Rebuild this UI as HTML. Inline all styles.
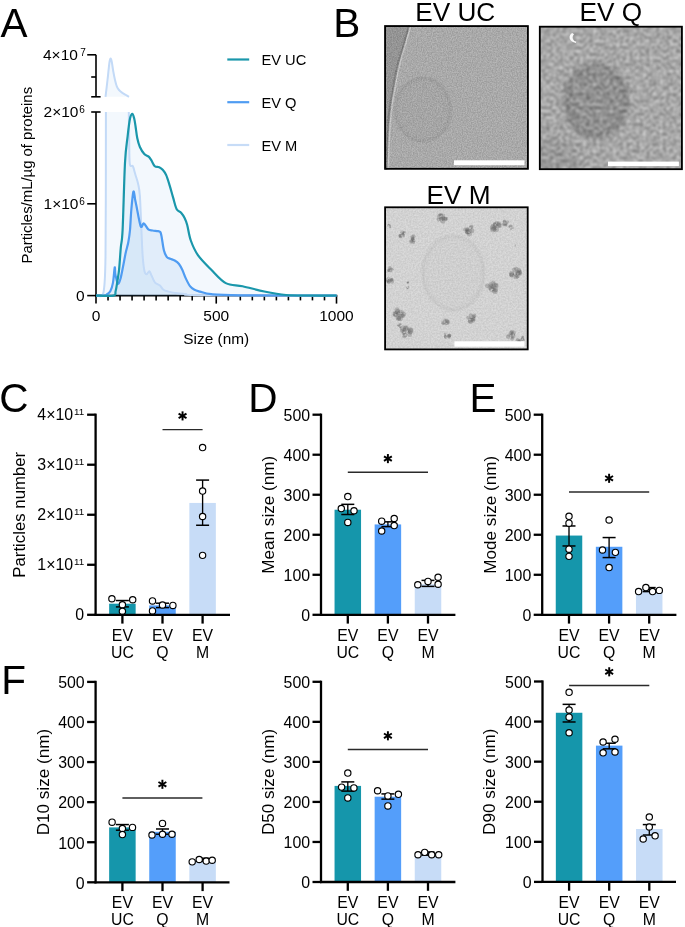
<!DOCTYPE html>
<html><head><meta charset="utf-8"><style>
html,body{margin:0;padding:0;background:#fff;}
svg{display:block;will-change:transform;}
text{font-family:"Liberation Sans",sans-serif;fill:#000;}
</style></head><body>
<svg width="685" height="927" viewBox="0 0 685 927" font-family="Liberation Sans, sans-serif">
<defs>
<filter id="gUC" x="0" y="0" width="1" height="1" color-interpolation-filters="sRGB">
 <feTurbulence type="fractalNoise" baseFrequency="0.8" numOctaves="2" seed="3"/>
 <feColorMatrix type="matrix" values="2 0 0 0 -0.5  2 0 0 0 -0.5  2 0 0 0 -0.5  0 0 0 0 0.11"/>
 <feGaussianBlur stdDeviation="0.4"/>
</filter>
<filter id="gQ" x="0" y="0" width="1" height="1" color-interpolation-filters="sRGB">
 <feTurbulence type="fractalNoise" baseFrequency="0.3" numOctaves="3" seed="11"/>
 <feColorMatrix type="matrix" values="1.6 0 0 0 -0.3  1.6 0 0 0 -0.3  1.6 0 0 0 -0.3  0 0 0 0 0.36"/>
 <feGaussianBlur stdDeviation="0.8"/>
</filter>
<filter id="gM" x="0" y="0" width="1" height="1" color-interpolation-filters="sRGB">
 <feTurbulence type="fractalNoise" baseFrequency="0.6" numOctaves="2" seed="5"/>
 <feColorMatrix type="matrix" values="2 0 0 0 -0.5  2 0 0 0 -0.5  2 0 0 0 -0.5  0 0 0 0 0.07"/>
 <feGaussianBlur stdDeviation="0.45"/>
</filter>
<filter id="bl05" color-interpolation-filters="sRGB"><feGaussianBlur stdDeviation="0.6"/></filter>
<filter id="blur1" color-interpolation-filters="sRGB"><feGaussianBlur stdDeviation="1.0"/></filter>
<filter id="blur2" x="-50%" y="-50%" width="200%" height="200%" color-interpolation-filters="sRGB"><feGaussianBlur stdDeviation="2.5"/></filter>
<filter id="blur4" x="-50%" y="-50%" width="200%" height="200%" color-interpolation-filters="sRGB"><feGaussianBlur stdDeviation="6"/></filter>
<clipPath id="c1"><rect x="384.3" y="25.3" width="144.4" height="144.3"/></clipPath>
<clipPath id="c2"><rect x="539" y="25.9" width="143.7" height="144.1"/></clipPath>
<clipPath id="c3"><rect x="384.3" y="206.5" width="144.2" height="143.7"/></clipPath>
</defs>
<text x="0.44" y="36.80" font-size="40.5" text-anchor="start" >A</text>
<text x="333.35" y="36.70" font-size="40.5" text-anchor="start" >B</text>
<text x="-0.84" y="412.30" font-size="40.5" text-anchor="start" >C</text>
<text x="248.34" y="411.90" font-size="40.5" text-anchor="start" >D</text>
<text x="469.50" y="412.30" font-size="40.5" text-anchor="start" >E</text>
<text x="1.23" y="693.70" font-size="40.5" text-anchor="start" >F</text>
<rect x="109.15" y="603.69" width="26.5" height="11.11" fill="#1596ab"/>
<rect x="149.25" y="605.40" width="26.5" height="9.40" fill="#549efa"/>
<rect x="189.35" y="502.94" width="26.5" height="111.86" fill="#c7dcf7"/>
<line x1="122.40" y1="606.90" x2="122.40" y2="600.54" stroke="#000" stroke-width="1.35"/>
<line x1="115.90" y1="606.90" x2="128.90" y2="606.90" stroke="#000" stroke-width="1.5"/>
<line x1="115.90" y1="600.54" x2="128.90" y2="600.54" stroke="#000" stroke-width="1.5"/>
<line x1="162.50" y1="607.60" x2="162.50" y2="603.19" stroke="#000" stroke-width="1.35"/>
<line x1="156.00" y1="607.60" x2="169.00" y2="607.60" stroke="#000" stroke-width="1.5"/>
<line x1="156.00" y1="603.19" x2="169.00" y2="603.19" stroke="#000" stroke-width="1.5"/>
<line x1="202.60" y1="525.26" x2="202.60" y2="480.08" stroke="#000" stroke-width="1.35"/>
<line x1="196.10" y1="525.26" x2="209.10" y2="525.26" stroke="#000" stroke-width="1.5"/>
<line x1="196.10" y1="480.08" x2="209.10" y2="480.08" stroke="#000" stroke-width="1.5"/>
<circle cx="111.90" cy="598.79" r="3.15" fill="#fff" stroke="#000" stroke-width="1.15"/>
<circle cx="132.70" cy="599.79" r="3.15" fill="#fff" stroke="#000" stroke-width="1.15"/>
<circle cx="122.40" cy="604.79" r="3.15" fill="#fff" stroke="#000" stroke-width="1.15"/>
<circle cx="122.40" cy="611.30" r="3.15" fill="#fff" stroke="#000" stroke-width="1.15"/>
<circle cx="152.50" cy="600.94" r="3.15" fill="#fff" stroke="#000" stroke-width="1.15"/>
<circle cx="162.50" cy="605.00" r="3.15" fill="#fff" stroke="#000" stroke-width="1.15"/>
<circle cx="172.90" cy="605.40" r="3.15" fill="#fff" stroke="#000" stroke-width="1.15"/>
<circle cx="152.50" cy="610.90" r="3.15" fill="#fff" stroke="#000" stroke-width="1.15"/>
<circle cx="202.60" cy="447.57" r="3.15" fill="#fff" stroke="#000" stroke-width="1.15"/>
<circle cx="202.60" cy="491.09" r="3.15" fill="#fff" stroke="#000" stroke-width="1.15"/>
<circle cx="202.60" cy="516.55" r="3.15" fill="#fff" stroke="#000" stroke-width="1.15"/>
<circle cx="202.60" cy="555.37" r="3.15" fill="#fff" stroke="#000" stroke-width="1.15"/>
<line x1="95.60" y1="413.60" x2="95.60" y2="615.90" stroke="#000" stroke-width="2.3"/>
<line x1="94.50" y1="614.80" x2="230.00" y2="614.80" stroke="#000" stroke-width="2.3"/>
<line x1="87.10" y1="614.80" x2="95.60" y2="614.80" stroke="#000" stroke-width="2.3"/>
<line x1="87.10" y1="564.77" x2="95.60" y2="564.77" stroke="#000" stroke-width="2.3"/>
<line x1="87.10" y1="514.75" x2="95.60" y2="514.75" stroke="#000" stroke-width="2.3"/>
<line x1="87.10" y1="464.72" x2="95.60" y2="464.72" stroke="#000" stroke-width="2.3"/>
<line x1="87.10" y1="414.70" x2="95.60" y2="414.70" stroke="#000" stroke-width="2.3"/>
<line x1="122.40" y1="614.80" x2="122.40" y2="623.60" stroke="#000" stroke-width="2.3"/>
<line x1="162.50" y1="614.80" x2="162.50" y2="623.60" stroke="#000" stroke-width="2.3"/>
<line x1="202.60" y1="614.80" x2="202.60" y2="623.60" stroke="#000" stroke-width="2.3"/>
<text x="84.00" y="620.20" font-size="15.9" text-anchor="end">0</text>
<text x="73.10" y="569.67" font-size="15.9" text-anchor="end">1×10</text><text x="74.00" y="565.07" font-size="9.8">11</text>
<text x="73.10" y="519.65" font-size="15.9" text-anchor="end">2×10</text><text x="74.00" y="515.05" font-size="9.8">11</text>
<text x="73.10" y="469.62" font-size="15.9" text-anchor="end">3×10</text><text x="74.00" y="465.02" font-size="9.8">11</text>
<text x="73.10" y="419.60" font-size="15.9" text-anchor="end">4×10</text><text x="74.00" y="415.00" font-size="9.8">11</text>
<text x="122.40" y="640.60" font-size="15.8" text-anchor="middle" >EV</text>
<text x="122.40" y="657.80" font-size="15.8" text-anchor="middle" >UC</text>
<text x="162.50" y="640.60" font-size="15.8" text-anchor="middle" >EV</text>
<text x="162.50" y="657.80" font-size="15.8" text-anchor="middle" >Q</text>
<text x="202.60" y="640.60" font-size="15.8" text-anchor="middle" >EV</text>
<text x="202.60" y="657.80" font-size="15.8" text-anchor="middle" >M</text>
<line x1="162.50" y1="429.60" x2="202.60" y2="429.60" stroke="#2a2a2a" stroke-width="1.4"/>
<line x1="182.55" y1="411.35" x2="182.55" y2="420.45" stroke="#000" stroke-width="1.95"/>
<line x1="178.61" y1="413.63" x2="186.49" y2="418.18" stroke="#000" stroke-width="1.95"/>
<line x1="186.49" y1="413.63" x2="178.61" y2="418.18" stroke="#000" stroke-width="1.95"/>
<text transform="translate(24.60,514.75) rotate(-90)" font-size="16.8" text-anchor="middle" dy="0">Particles number</text>
<rect x="334.55" y="509.71" width="26.5" height="105.09" fill="#1596ab"/>
<rect x="374.65" y="524.43" width="26.5" height="90.37" fill="#549efa"/>
<rect x="414.75" y="584.22" width="26.5" height="30.58" fill="#c7dcf7"/>
<line x1="347.80" y1="514.51" x2="347.80" y2="504.34" stroke="#000" stroke-width="1.35"/>
<line x1="341.30" y1="514.51" x2="354.30" y2="514.51" stroke="#000" stroke-width="1.5"/>
<line x1="341.30" y1="504.34" x2="354.30" y2="504.34" stroke="#000" stroke-width="1.5"/>
<line x1="387.90" y1="526.64" x2="387.90" y2="521.83" stroke="#000" stroke-width="1.35"/>
<line x1="381.40" y1="526.64" x2="394.40" y2="526.64" stroke="#000" stroke-width="1.5"/>
<line x1="381.40" y1="521.83" x2="394.40" y2="521.83" stroke="#000" stroke-width="1.5"/>
<line x1="428.00" y1="586.39" x2="428.00" y2="580.38" stroke="#000" stroke-width="1.35"/>
<line x1="421.50" y1="586.39" x2="434.50" y2="586.39" stroke="#000" stroke-width="1.5"/>
<line x1="421.50" y1="580.38" x2="434.50" y2="580.38" stroke="#000" stroke-width="1.5"/>
<circle cx="347.80" cy="496.58" r="3.15" fill="#fff" stroke="#000" stroke-width="1.15"/>
<circle cx="341.30" cy="508.59" r="3.15" fill="#fff" stroke="#000" stroke-width="1.15"/>
<circle cx="354.00" cy="510.79" r="3.15" fill="#fff" stroke="#000" stroke-width="1.15"/>
<circle cx="347.80" cy="522.43" r="3.15" fill="#fff" stroke="#000" stroke-width="1.15"/>
<circle cx="381.70" cy="521.15" r="3.15" fill="#fff" stroke="#000" stroke-width="1.15"/>
<circle cx="394.20" cy="518.51" r="3.15" fill="#fff" stroke="#000" stroke-width="1.15"/>
<circle cx="394.20" cy="525.56" r="3.15" fill="#fff" stroke="#000" stroke-width="1.15"/>
<circle cx="381.70" cy="531.04" r="3.15" fill="#fff" stroke="#000" stroke-width="1.15"/>
<circle cx="417.80" cy="584.74" r="3.15" fill="#fff" stroke="#000" stroke-width="1.15"/>
<circle cx="428.00" cy="581.42" r="3.15" fill="#fff" stroke="#000" stroke-width="1.15"/>
<circle cx="438.10" cy="577.22" r="3.15" fill="#fff" stroke="#000" stroke-width="1.15"/>
<circle cx="438.10" cy="584.22" r="3.15" fill="#fff" stroke="#000" stroke-width="1.15"/>
<line x1="321.00" y1="413.60" x2="321.00" y2="615.90" stroke="#000" stroke-width="2.3"/>
<line x1="319.90" y1="614.80" x2="455.40" y2="614.80" stroke="#000" stroke-width="2.3"/>
<line x1="312.50" y1="614.80" x2="321.00" y2="614.80" stroke="#000" stroke-width="2.3"/>
<line x1="312.50" y1="574.78" x2="321.00" y2="574.78" stroke="#000" stroke-width="2.3"/>
<line x1="312.50" y1="534.76" x2="321.00" y2="534.76" stroke="#000" stroke-width="2.3"/>
<line x1="312.50" y1="494.74" x2="321.00" y2="494.74" stroke="#000" stroke-width="2.3"/>
<line x1="312.50" y1="454.72" x2="321.00" y2="454.72" stroke="#000" stroke-width="2.3"/>
<line x1="312.50" y1="414.70" x2="321.00" y2="414.70" stroke="#000" stroke-width="2.3"/>
<line x1="347.80" y1="614.80" x2="347.80" y2="623.60" stroke="#000" stroke-width="2.3"/>
<line x1="387.90" y1="614.80" x2="387.90" y2="623.60" stroke="#000" stroke-width="2.3"/>
<line x1="428.00" y1="614.80" x2="428.00" y2="623.60" stroke="#000" stroke-width="2.3"/>
<text x="310.10" y="621.10" font-size="15.9" text-anchor="end">0</text>
<text x="310.10" y="581.08" font-size="15.9" text-anchor="end">100</text>
<text x="310.10" y="541.06" font-size="15.9" text-anchor="end">200</text>
<text x="310.10" y="501.04" font-size="15.9" text-anchor="end">300</text>
<text x="310.10" y="461.02" font-size="15.9" text-anchor="end">400</text>
<text x="310.10" y="421.00" font-size="15.9" text-anchor="end">500</text>
<text x="347.80" y="640.60" font-size="15.8" text-anchor="middle" >EV</text>
<text x="347.80" y="657.80" font-size="15.8" text-anchor="middle" >UC</text>
<text x="387.90" y="640.60" font-size="15.8" text-anchor="middle" >EV</text>
<text x="387.90" y="657.80" font-size="15.8" text-anchor="middle" >Q</text>
<text x="428.00" y="640.60" font-size="15.8" text-anchor="middle" >EV</text>
<text x="428.00" y="657.80" font-size="15.8" text-anchor="middle" >M</text>
<line x1="347.80" y1="472.30" x2="428.00" y2="472.30" stroke="#2a2a2a" stroke-width="1.4"/>
<line x1="387.90" y1="454.05" x2="387.90" y2="463.15" stroke="#000" stroke-width="1.95"/>
<line x1="383.96" y1="456.33" x2="391.84" y2="460.88" stroke="#000" stroke-width="1.95"/>
<line x1="391.84" y1="456.33" x2="383.96" y2="460.88" stroke="#000" stroke-width="1.95"/>
<text transform="translate(274.30,514.75) rotate(-90)" font-size="17.1" text-anchor="middle" dy="0">Mean size (nm)</text>
<rect x="555.75" y="535.56" width="26.5" height="79.24" fill="#1596ab"/>
<rect x="595.85" y="546.77" width="26.5" height="68.03" fill="#549efa"/>
<rect x="635.95" y="589.59" width="26.5" height="25.21" fill="#c7dcf7"/>
<line x1="569.00" y1="545.97" x2="569.00" y2="525.96" stroke="#000" stroke-width="1.35"/>
<line x1="562.50" y1="545.97" x2="575.50" y2="545.97" stroke="#000" stroke-width="1.5"/>
<line x1="562.50" y1="525.96" x2="575.50" y2="525.96" stroke="#000" stroke-width="1.5"/>
<line x1="609.10" y1="557.57" x2="609.10" y2="537.56" stroke="#000" stroke-width="1.35"/>
<line x1="602.60" y1="557.57" x2="615.60" y2="557.57" stroke="#000" stroke-width="1.5"/>
<line x1="602.60" y1="537.56" x2="615.60" y2="537.56" stroke="#000" stroke-width="1.5"/>
<line x1="649.20" y1="591.59" x2="649.20" y2="587.59" stroke="#000" stroke-width="1.35"/>
<line x1="642.70" y1="591.59" x2="655.70" y2="591.59" stroke="#000" stroke-width="1.5"/>
<line x1="642.70" y1="587.59" x2="655.70" y2="587.59" stroke="#000" stroke-width="1.5"/>
<circle cx="569.00" cy="516.35" r="3.15" fill="#fff" stroke="#000" stroke-width="1.15"/>
<circle cx="569.00" cy="523.15" r="3.15" fill="#fff" stroke="#000" stroke-width="1.15"/>
<circle cx="569.00" cy="549.17" r="3.15" fill="#fff" stroke="#000" stroke-width="1.15"/>
<circle cx="569.00" cy="556.37" r="3.15" fill="#fff" stroke="#000" stroke-width="1.15"/>
<circle cx="609.10" cy="519.95" r="3.15" fill="#fff" stroke="#000" stroke-width="1.15"/>
<circle cx="602.50" cy="549.97" r="3.15" fill="#fff" stroke="#000" stroke-width="1.15"/>
<circle cx="615.40" cy="552.37" r="3.15" fill="#fff" stroke="#000" stroke-width="1.15"/>
<circle cx="609.10" cy="567.58" r="3.15" fill="#fff" stroke="#000" stroke-width="1.15"/>
<circle cx="638.60" cy="591.59" r="3.15" fill="#fff" stroke="#000" stroke-width="1.15"/>
<circle cx="645.90" cy="587.59" r="3.15" fill="#fff" stroke="#000" stroke-width="1.15"/>
<circle cx="652.60" cy="591.59" r="3.15" fill="#fff" stroke="#000" stroke-width="1.15"/>
<circle cx="659.30" cy="590.39" r="3.15" fill="#fff" stroke="#000" stroke-width="1.15"/>
<line x1="542.20" y1="413.60" x2="542.20" y2="615.90" stroke="#000" stroke-width="2.3"/>
<line x1="541.10" y1="614.80" x2="676.40" y2="614.80" stroke="#000" stroke-width="2.3"/>
<line x1="533.70" y1="614.80" x2="542.20" y2="614.80" stroke="#000" stroke-width="2.3"/>
<line x1="533.70" y1="574.78" x2="542.20" y2="574.78" stroke="#000" stroke-width="2.3"/>
<line x1="533.70" y1="534.76" x2="542.20" y2="534.76" stroke="#000" stroke-width="2.3"/>
<line x1="533.70" y1="494.74" x2="542.20" y2="494.74" stroke="#000" stroke-width="2.3"/>
<line x1="533.70" y1="454.72" x2="542.20" y2="454.72" stroke="#000" stroke-width="2.3"/>
<line x1="533.70" y1="414.70" x2="542.20" y2="414.70" stroke="#000" stroke-width="2.3"/>
<line x1="569.00" y1="614.80" x2="569.00" y2="623.60" stroke="#000" stroke-width="2.3"/>
<line x1="609.10" y1="614.80" x2="609.10" y2="623.60" stroke="#000" stroke-width="2.3"/>
<line x1="649.20" y1="614.80" x2="649.20" y2="623.60" stroke="#000" stroke-width="2.3"/>
<text x="531.30" y="621.10" font-size="15.9" text-anchor="end">0</text>
<text x="531.30" y="581.08" font-size="15.9" text-anchor="end">100</text>
<text x="531.30" y="541.06" font-size="15.9" text-anchor="end">200</text>
<text x="531.30" y="501.04" font-size="15.9" text-anchor="end">300</text>
<text x="531.30" y="461.02" font-size="15.9" text-anchor="end">400</text>
<text x="531.30" y="421.00" font-size="15.9" text-anchor="end">500</text>
<text x="569.00" y="640.60" font-size="15.8" text-anchor="middle" >EV</text>
<text x="569.00" y="657.80" font-size="15.8" text-anchor="middle" >UC</text>
<text x="609.10" y="640.60" font-size="15.8" text-anchor="middle" >EV</text>
<text x="609.10" y="657.80" font-size="15.8" text-anchor="middle" >Q</text>
<text x="649.20" y="640.60" font-size="15.8" text-anchor="middle" >EV</text>
<text x="649.20" y="657.80" font-size="15.8" text-anchor="middle" >M</text>
<line x1="569.00" y1="492.00" x2="649.20" y2="492.00" stroke="#2a2a2a" stroke-width="1.4"/>
<line x1="609.10" y1="473.75" x2="609.10" y2="482.85" stroke="#000" stroke-width="1.95"/>
<line x1="605.16" y1="476.03" x2="613.04" y2="480.57" stroke="#000" stroke-width="1.95"/>
<line x1="613.04" y1="476.03" x2="605.16" y2="480.57" stroke="#000" stroke-width="1.95"/>
<text transform="translate(495.60,514.75) rotate(-90)" font-size="17.1" text-anchor="middle" dy="0">Mode size (nm)</text>
<rect x="109.15" y="827.39" width="26.5" height="54.91" fill="#1596ab"/>
<rect x="149.25" y="831.80" width="26.5" height="50.50" fill="#549efa"/>
<rect x="189.35" y="859.86" width="26.5" height="22.44" fill="#c7dcf7"/>
<line x1="122.40" y1="830.20" x2="122.40" y2="824.58" stroke="#000" stroke-width="1.35"/>
<line x1="115.90" y1="830.20" x2="128.90" y2="830.20" stroke="#000" stroke-width="1.5"/>
<line x1="115.90" y1="824.58" x2="128.90" y2="824.58" stroke="#000" stroke-width="1.5"/>
<line x1="162.50" y1="834.20" x2="162.50" y2="828.99" stroke="#000" stroke-width="1.35"/>
<line x1="156.00" y1="834.20" x2="169.00" y2="834.20" stroke="#000" stroke-width="1.5"/>
<line x1="156.00" y1="828.99" x2="169.00" y2="828.99" stroke="#000" stroke-width="1.5"/>
<line x1="202.60" y1="861.06" x2="202.60" y2="858.25" stroke="#000" stroke-width="1.35"/>
<line x1="196.10" y1="861.06" x2="209.10" y2="861.06" stroke="#000" stroke-width="1.5"/>
<line x1="196.10" y1="858.25" x2="209.10" y2="858.25" stroke="#000" stroke-width="1.5"/>
<circle cx="112.10" cy="822.18" r="3.15" fill="#fff" stroke="#000" stroke-width="1.15"/>
<circle cx="122.40" cy="828.59" r="3.15" fill="#fff" stroke="#000" stroke-width="1.15"/>
<circle cx="122.40" cy="834.60" r="3.15" fill="#fff" stroke="#000" stroke-width="1.15"/>
<circle cx="132.50" cy="827.39" r="3.15" fill="#fff" stroke="#000" stroke-width="1.15"/>
<circle cx="162.50" cy="823.38" r="3.15" fill="#fff" stroke="#000" stroke-width="1.15"/>
<circle cx="152.00" cy="835.01" r="3.15" fill="#fff" stroke="#000" stroke-width="1.15"/>
<circle cx="162.50" cy="834.20" r="3.15" fill="#fff" stroke="#000" stroke-width="1.15"/>
<circle cx="172.00" cy="834.20" r="3.15" fill="#fff" stroke="#000" stroke-width="1.15"/>
<circle cx="192.20" cy="861.86" r="3.15" fill="#fff" stroke="#000" stroke-width="1.15"/>
<circle cx="199.20" cy="859.45" r="3.15" fill="#fff" stroke="#000" stroke-width="1.15"/>
<circle cx="206.20" cy="861.06" r="3.15" fill="#fff" stroke="#000" stroke-width="1.15"/>
<circle cx="212.20" cy="860.26" r="3.15" fill="#fff" stroke="#000" stroke-width="1.15"/>
<line x1="95.60" y1="680.80" x2="95.60" y2="883.40" stroke="#000" stroke-width="2.3"/>
<line x1="94.50" y1="882.30" x2="229.50" y2="882.30" stroke="#000" stroke-width="2.3"/>
<line x1="87.10" y1="882.30" x2="95.60" y2="882.30" stroke="#000" stroke-width="2.3"/>
<line x1="87.10" y1="842.22" x2="95.60" y2="842.22" stroke="#000" stroke-width="2.3"/>
<line x1="87.10" y1="802.14" x2="95.60" y2="802.14" stroke="#000" stroke-width="2.3"/>
<line x1="87.10" y1="762.06" x2="95.60" y2="762.06" stroke="#000" stroke-width="2.3"/>
<line x1="87.10" y1="721.98" x2="95.60" y2="721.98" stroke="#000" stroke-width="2.3"/>
<line x1="87.10" y1="681.90" x2="95.60" y2="681.90" stroke="#000" stroke-width="2.3"/>
<line x1="122.40" y1="882.30" x2="122.40" y2="891.10" stroke="#000" stroke-width="2.3"/>
<line x1="162.50" y1="882.30" x2="162.50" y2="891.10" stroke="#000" stroke-width="2.3"/>
<line x1="202.60" y1="882.30" x2="202.60" y2="891.10" stroke="#000" stroke-width="2.3"/>
<text x="84.70" y="888.60" font-size="15.9" text-anchor="end">0</text>
<text x="84.70" y="848.52" font-size="15.9" text-anchor="end">100</text>
<text x="84.70" y="808.44" font-size="15.9" text-anchor="end">200</text>
<text x="84.70" y="768.36" font-size="15.9" text-anchor="end">300</text>
<text x="84.70" y="728.28" font-size="15.9" text-anchor="end">400</text>
<text x="84.70" y="688.20" font-size="15.9" text-anchor="end">500</text>
<text x="122.40" y="908.10" font-size="15.8" text-anchor="middle" >EV</text>
<text x="122.40" y="925.30" font-size="15.8" text-anchor="middle" >UC</text>
<text x="162.50" y="908.10" font-size="15.8" text-anchor="middle" >EV</text>
<text x="162.50" y="925.30" font-size="15.8" text-anchor="middle" >Q</text>
<text x="202.60" y="908.10" font-size="15.8" text-anchor="middle" >EV</text>
<text x="202.60" y="925.30" font-size="15.8" text-anchor="middle" >M</text>
<line x1="122.40" y1="798.00" x2="202.40" y2="798.00" stroke="#2a2a2a" stroke-width="1.4"/>
<line x1="162.40" y1="779.75" x2="162.40" y2="788.85" stroke="#000" stroke-width="1.95"/>
<line x1="158.46" y1="782.02" x2="166.34" y2="786.57" stroke="#000" stroke-width="1.95"/>
<line x1="166.34" y1="782.02" x2="158.46" y2="786.57" stroke="#000" stroke-width="1.95"/>
<text transform="translate(48.60,782.10) rotate(-90)" font-size="17.1" text-anchor="middle" dy="0">D10 size (nm)</text>
<rect x="334.55" y="785.90" width="26.5" height="96.10" fill="#1596ab"/>
<rect x="374.65" y="796.71" width="26.5" height="85.29" fill="#549efa"/>
<rect x="414.75" y="853.57" width="26.5" height="28.43" fill="#c7dcf7"/>
<line x1="347.80" y1="791.11" x2="347.80" y2="781.90" stroke="#000" stroke-width="1.35"/>
<line x1="341.30" y1="791.11" x2="354.30" y2="791.11" stroke="#000" stroke-width="1.5"/>
<line x1="341.30" y1="781.90" x2="354.30" y2="781.90" stroke="#000" stroke-width="1.5"/>
<line x1="387.90" y1="799.12" x2="387.90" y2="793.91" stroke="#000" stroke-width="1.35"/>
<line x1="381.40" y1="799.12" x2="394.40" y2="799.12" stroke="#000" stroke-width="1.5"/>
<line x1="381.40" y1="793.91" x2="394.40" y2="793.91" stroke="#000" stroke-width="1.5"/>
<line x1="428.00" y1="855.17" x2="428.00" y2="851.97" stroke="#000" stroke-width="1.35"/>
<line x1="421.50" y1="855.17" x2="434.50" y2="855.17" stroke="#000" stroke-width="1.5"/>
<line x1="421.50" y1="851.97" x2="434.50" y2="851.97" stroke="#000" stroke-width="1.5"/>
<circle cx="347.80" cy="773.09" r="3.15" fill="#fff" stroke="#000" stroke-width="1.15"/>
<circle cx="341.60" cy="787.11" r="3.15" fill="#fff" stroke="#000" stroke-width="1.15"/>
<circle cx="353.90" cy="787.91" r="3.15" fill="#fff" stroke="#000" stroke-width="1.15"/>
<circle cx="347.80" cy="797.92" r="3.15" fill="#fff" stroke="#000" stroke-width="1.15"/>
<circle cx="377.60" cy="790.71" r="3.15" fill="#fff" stroke="#000" stroke-width="1.15"/>
<circle cx="387.90" cy="795.91" r="3.15" fill="#fff" stroke="#000" stroke-width="1.15"/>
<circle cx="398.40" cy="794.31" r="3.15" fill="#fff" stroke="#000" stroke-width="1.15"/>
<circle cx="387.90" cy="805.92" r="3.15" fill="#fff" stroke="#000" stroke-width="1.15"/>
<circle cx="418.00" cy="854.77" r="3.15" fill="#fff" stroke="#000" stroke-width="1.15"/>
<circle cx="424.70" cy="852.37" r="3.15" fill="#fff" stroke="#000" stroke-width="1.15"/>
<circle cx="431.70" cy="854.77" r="3.15" fill="#fff" stroke="#000" stroke-width="1.15"/>
<circle cx="438.70" cy="854.77" r="3.15" fill="#fff" stroke="#000" stroke-width="1.15"/>
<line x1="321.00" y1="680.70" x2="321.00" y2="883.10" stroke="#000" stroke-width="2.3"/>
<line x1="319.90" y1="882.00" x2="455.40" y2="882.00" stroke="#000" stroke-width="2.3"/>
<line x1="312.50" y1="882.00" x2="321.00" y2="882.00" stroke="#000" stroke-width="2.3"/>
<line x1="312.50" y1="841.96" x2="321.00" y2="841.96" stroke="#000" stroke-width="2.3"/>
<line x1="312.50" y1="801.92" x2="321.00" y2="801.92" stroke="#000" stroke-width="2.3"/>
<line x1="312.50" y1="761.88" x2="321.00" y2="761.88" stroke="#000" stroke-width="2.3"/>
<line x1="312.50" y1="721.84" x2="321.00" y2="721.84" stroke="#000" stroke-width="2.3"/>
<line x1="312.50" y1="681.80" x2="321.00" y2="681.80" stroke="#000" stroke-width="2.3"/>
<line x1="347.80" y1="882.00" x2="347.80" y2="890.80" stroke="#000" stroke-width="2.3"/>
<line x1="387.90" y1="882.00" x2="387.90" y2="890.80" stroke="#000" stroke-width="2.3"/>
<line x1="428.00" y1="882.00" x2="428.00" y2="890.80" stroke="#000" stroke-width="2.3"/>
<text x="310.10" y="888.30" font-size="15.9" text-anchor="end">0</text>
<text x="310.10" y="848.26" font-size="15.9" text-anchor="end">100</text>
<text x="310.10" y="808.22" font-size="15.9" text-anchor="end">200</text>
<text x="310.10" y="768.18" font-size="15.9" text-anchor="end">300</text>
<text x="310.10" y="728.14" font-size="15.9" text-anchor="end">400</text>
<text x="310.10" y="688.10" font-size="15.9" text-anchor="end">500</text>
<text x="347.80" y="907.80" font-size="15.8" text-anchor="middle" >EV</text>
<text x="347.80" y="925.00" font-size="15.8" text-anchor="middle" >UC</text>
<text x="387.90" y="907.80" font-size="15.8" text-anchor="middle" >EV</text>
<text x="387.90" y="925.00" font-size="15.8" text-anchor="middle" >Q</text>
<text x="428.00" y="907.80" font-size="15.8" text-anchor="middle" >EV</text>
<text x="428.00" y="925.00" font-size="15.8" text-anchor="middle" >M</text>
<line x1="347.80" y1="749.50" x2="428.00" y2="749.50" stroke="#2a2a2a" stroke-width="1.4"/>
<line x1="387.90" y1="731.25" x2="387.90" y2="740.35" stroke="#000" stroke-width="1.95"/>
<line x1="383.96" y1="733.52" x2="391.84" y2="738.07" stroke="#000" stroke-width="1.95"/>
<line x1="391.84" y1="733.52" x2="383.96" y2="738.07" stroke="#000" stroke-width="1.95"/>
<text transform="translate(274.40,781.90) rotate(-90)" font-size="17.1" text-anchor="middle" dy="0">D50 size (nm)</text>
<rect x="555.85" y="712.76" width="26.5" height="169.14" fill="#1596ab"/>
<rect x="595.95" y="745.63" width="26.5" height="136.27" fill="#549efa"/>
<rect x="636.05" y="828.99" width="26.5" height="52.91" fill="#c7dcf7"/>
<line x1="569.10" y1="721.98" x2="569.10" y2="704.35" stroke="#000" stroke-width="1.35"/>
<line x1="562.60" y1="721.98" x2="575.60" y2="721.98" stroke="#000" stroke-width="1.5"/>
<line x1="562.60" y1="704.35" x2="575.60" y2="704.35" stroke="#000" stroke-width="1.5"/>
<line x1="609.20" y1="748.83" x2="609.20" y2="743.22" stroke="#000" stroke-width="1.35"/>
<line x1="602.70" y1="748.83" x2="615.70" y2="748.83" stroke="#000" stroke-width="1.5"/>
<line x1="602.70" y1="743.22" x2="615.70" y2="743.22" stroke="#000" stroke-width="1.5"/>
<line x1="649.30" y1="835.01" x2="649.30" y2="824.59" stroke="#000" stroke-width="1.35"/>
<line x1="642.80" y1="835.01" x2="655.80" y2="835.01" stroke="#000" stroke-width="1.5"/>
<line x1="642.80" y1="824.59" x2="655.80" y2="824.59" stroke="#000" stroke-width="1.5"/>
<circle cx="569.10" cy="692.32" r="3.15" fill="#fff" stroke="#000" stroke-width="1.15"/>
<circle cx="569.10" cy="709.96" r="3.15" fill="#fff" stroke="#000" stroke-width="1.15"/>
<circle cx="569.10" cy="717.17" r="3.15" fill="#fff" stroke="#000" stroke-width="1.15"/>
<circle cx="569.10" cy="732.80" r="3.15" fill="#fff" stroke="#000" stroke-width="1.15"/>
<circle cx="603.10" cy="742.02" r="3.15" fill="#fff" stroke="#000" stroke-width="1.15"/>
<circle cx="615.00" cy="739.22" r="3.15" fill="#fff" stroke="#000" stroke-width="1.15"/>
<circle cx="603.10" cy="752.84" r="3.15" fill="#fff" stroke="#000" stroke-width="1.15"/>
<circle cx="615.00" cy="752.04" r="3.15" fill="#fff" stroke="#000" stroke-width="1.15"/>
<circle cx="649.30" cy="816.97" r="3.15" fill="#fff" stroke="#000" stroke-width="1.15"/>
<circle cx="649.30" cy="826.99" r="3.15" fill="#fff" stroke="#000" stroke-width="1.15"/>
<circle cx="643.20" cy="839.01" r="3.15" fill="#fff" stroke="#000" stroke-width="1.15"/>
<circle cx="655.10" cy="835.81" r="3.15" fill="#fff" stroke="#000" stroke-width="1.15"/>
<line x1="542.50" y1="680.40" x2="542.50" y2="883.00" stroke="#000" stroke-width="2.3"/>
<line x1="541.40" y1="881.90" x2="676.00" y2="881.90" stroke="#000" stroke-width="2.3"/>
<line x1="534.00" y1="881.90" x2="542.50" y2="881.90" stroke="#000" stroke-width="2.3"/>
<line x1="534.00" y1="841.82" x2="542.50" y2="841.82" stroke="#000" stroke-width="2.3"/>
<line x1="534.00" y1="801.74" x2="542.50" y2="801.74" stroke="#000" stroke-width="2.3"/>
<line x1="534.00" y1="761.66" x2="542.50" y2="761.66" stroke="#000" stroke-width="2.3"/>
<line x1="534.00" y1="721.58" x2="542.50" y2="721.58" stroke="#000" stroke-width="2.3"/>
<line x1="534.00" y1="681.50" x2="542.50" y2="681.50" stroke="#000" stroke-width="2.3"/>
<line x1="569.10" y1="881.90" x2="569.10" y2="890.70" stroke="#000" stroke-width="2.3"/>
<line x1="609.20" y1="881.90" x2="609.20" y2="890.70" stroke="#000" stroke-width="2.3"/>
<line x1="649.30" y1="881.90" x2="649.30" y2="890.70" stroke="#000" stroke-width="2.3"/>
<text x="531.60" y="888.20" font-size="15.9" text-anchor="end">0</text>
<text x="531.60" y="848.12" font-size="15.9" text-anchor="end">100</text>
<text x="531.60" y="808.04" font-size="15.9" text-anchor="end">200</text>
<text x="531.60" y="767.96" font-size="15.9" text-anchor="end">300</text>
<text x="531.60" y="727.88" font-size="15.9" text-anchor="end">400</text>
<text x="531.60" y="687.80" font-size="15.9" text-anchor="end">500</text>
<text x="569.10" y="907.70" font-size="15.8" text-anchor="middle" >EV</text>
<text x="569.10" y="924.90" font-size="15.8" text-anchor="middle" >UC</text>
<text x="609.20" y="907.70" font-size="15.8" text-anchor="middle" >EV</text>
<text x="609.20" y="924.90" font-size="15.8" text-anchor="middle" >Q</text>
<text x="649.30" y="907.70" font-size="15.8" text-anchor="middle" >EV</text>
<text x="649.30" y="924.90" font-size="15.8" text-anchor="middle" >M</text>
<line x1="569.10" y1="685.50" x2="649.30" y2="685.50" stroke="#2a2a2a" stroke-width="1.4"/>
<line x1="609.20" y1="667.25" x2="609.20" y2="676.35" stroke="#000" stroke-width="1.95"/>
<line x1="605.26" y1="669.52" x2="613.14" y2="674.07" stroke="#000" stroke-width="1.95"/>
<line x1="613.14" y1="669.52" x2="605.26" y2="674.07" stroke="#000" stroke-width="1.95"/>
<text transform="translate(495.30,781.70) rotate(-90)" font-size="17.1" text-anchor="middle" dy="0">D90 size (nm)</text>
<line x1="96.00" y1="54.80" x2="96.00" y2="96.80" stroke="#000" stroke-width="1.6"/>
<line x1="87.20" y1="54.80" x2="96.00" y2="54.80" stroke="#000" stroke-width="1.6"/>
<line x1="91.20" y1="77.00" x2="96.00" y2="77.00" stroke="#000" stroke-width="1.6"/>
<line x1="91.20" y1="96.80" x2="100.60" y2="96.80" stroke="#000" stroke-width="1.6"/>
<line x1="96.00" y1="112.00" x2="96.00" y2="296.40" stroke="#000" stroke-width="1.6"/>
<line x1="91.20" y1="112.00" x2="100.60" y2="112.00" stroke="#000" stroke-width="1.6"/>
<line x1="87.20" y1="203.80" x2="96.00" y2="203.80" stroke="#000" stroke-width="1.6"/>
<line x1="87.20" y1="295.60" x2="96.00" y2="295.60" stroke="#000" stroke-width="1.6"/>
<line x1="95.20" y1="295.60" x2="337.30" y2="295.60" stroke="#000" stroke-width="1.6"/>
<line x1="96.00" y1="295.60" x2="96.00" y2="303.60" stroke="#000" stroke-width="1.6"/>
<line x1="108.03" y1="295.60" x2="108.03" y2="300.40" stroke="#000" stroke-width="1.6"/>
<line x1="120.05" y1="295.60" x2="120.05" y2="300.40" stroke="#000" stroke-width="1.6"/>
<line x1="132.07" y1="295.60" x2="132.07" y2="300.40" stroke="#000" stroke-width="1.6"/>
<line x1="144.10" y1="295.60" x2="144.10" y2="300.40" stroke="#000" stroke-width="1.6"/>
<line x1="156.12" y1="295.60" x2="156.12" y2="300.40" stroke="#000" stroke-width="1.6"/>
<line x1="168.15" y1="295.60" x2="168.15" y2="300.40" stroke="#000" stroke-width="1.6"/>
<line x1="180.18" y1="295.60" x2="180.18" y2="300.40" stroke="#000" stroke-width="1.6"/>
<line x1="192.20" y1="295.60" x2="192.20" y2="300.40" stroke="#000" stroke-width="1.6"/>
<line x1="204.22" y1="295.60" x2="204.22" y2="300.40" stroke="#000" stroke-width="1.6"/>
<line x1="216.25" y1="295.60" x2="216.25" y2="303.60" stroke="#000" stroke-width="1.6"/>
<line x1="228.28" y1="295.60" x2="228.28" y2="300.40" stroke="#000" stroke-width="1.6"/>
<line x1="240.30" y1="295.60" x2="240.30" y2="300.40" stroke="#000" stroke-width="1.6"/>
<line x1="252.32" y1="295.60" x2="252.32" y2="300.40" stroke="#000" stroke-width="1.6"/>
<line x1="264.35" y1="295.60" x2="264.35" y2="300.40" stroke="#000" stroke-width="1.6"/>
<line x1="276.38" y1="295.60" x2="276.38" y2="300.40" stroke="#000" stroke-width="1.6"/>
<line x1="288.40" y1="295.60" x2="288.40" y2="300.40" stroke="#000" stroke-width="1.6"/>
<line x1="300.43" y1="295.60" x2="300.43" y2="300.40" stroke="#000" stroke-width="1.6"/>
<line x1="312.45" y1="295.60" x2="312.45" y2="300.40" stroke="#000" stroke-width="1.6"/>
<line x1="324.48" y1="295.60" x2="324.48" y2="300.40" stroke="#000" stroke-width="1.6"/>
<line x1="336.50" y1="295.60" x2="336.50" y2="303.60" stroke="#000" stroke-width="1.6"/>
<path d="M96.00,295.60 C97.08,295.57 101.07,297.57 102.50,295.40 C103.93,293.23 104.10,289.12 104.60,282.60 C105.10,276.08 105.30,270.07 105.50,256.30 C105.70,242.53 105.73,224.05 105.80,200.00 C105.87,175.95 105.88,126.67 105.90,112.00 L128.8,112 L128.80,112.00 C128.87,116.67 129.03,131.37 129.20,140.00 C129.37,148.63 129.18,159.42 129.80,163.80 C130.42,168.18 131.95,164.43 132.90,166.30 C133.85,168.17 134.63,172.08 135.50,175.00 C136.37,177.92 137.37,180.28 138.10,183.80 C138.83,187.32 139.35,188.40 139.90,196.10 C140.45,203.80 140.93,219.97 141.40,230.00 C141.87,240.03 142.18,249.43 142.70,256.30 C143.22,263.17 143.83,268.22 144.50,271.20 C145.17,274.18 145.90,274.20 146.70,274.20 C147.50,274.20 148.50,270.98 149.30,271.20 C150.10,271.42 150.55,273.60 151.50,275.50 C152.45,277.40 153.58,280.93 155.00,282.60 C156.42,284.27 158.60,284.30 160.00,285.50 C161.40,286.70 161.97,288.78 163.40,289.80 C164.83,290.82 166.30,291.02 168.60,291.60 C170.90,292.18 174.32,292.88 177.20,293.30 C180.08,293.72 182.10,293.78 185.90,294.10 C189.70,294.42 174.90,294.95 200.00,295.20 C225.10,295.45 313.75,295.53 336.50,295.60 L336.5,295.6 L96,295.6 Z" fill="#64a0e6" fill-opacity="0.075"/>
<path d="M96.00,295.60 C98.90,295.60 110.13,296.32 113.40,295.60 C116.67,294.88 114.95,293.62 115.60,291.30 C116.25,288.98 116.72,285.35 117.30,281.70 C117.88,278.05 118.52,275.10 119.10,269.40 C119.68,263.70 120.22,254.07 120.80,247.50 C121.38,240.93 121.90,244.12 122.60,230.00 C123.30,215.88 124.17,178.38 125.00,162.80 C125.83,147.22 126.77,143.87 127.60,136.50 C128.43,129.13 129.20,122.37 130.00,118.60 C130.80,114.83 131.70,113.90 132.40,113.90 C133.10,113.90 133.68,116.58 134.20,118.60 C134.72,120.62 134.98,122.72 135.50,126.00 C136.02,129.28 136.57,134.80 137.30,138.30 C138.03,141.80 138.73,144.38 139.90,147.00 C141.07,149.62 142.83,152.38 144.30,154.00 C145.77,155.62 147.53,155.67 148.70,156.70 C149.87,157.73 150.28,158.60 151.30,160.20 C152.32,161.80 153.48,165.13 154.80,166.30 C156.12,167.47 157.88,166.62 159.20,167.20 C160.52,167.78 161.53,168.48 162.70,169.80 C163.87,171.12 165.03,172.47 166.20,175.10 C167.37,177.73 168.53,181.80 169.70,185.60 C170.87,189.40 172.03,193.97 173.20,197.90 C174.37,201.83 175.38,206.73 176.70,209.20 C178.02,211.67 179.78,211.23 181.10,212.70 C182.42,214.17 183.58,215.95 184.60,218.00 C185.62,220.05 186.17,221.25 187.20,225.00 C188.23,228.75 188.98,235.43 190.80,240.50 C192.62,245.57 194.68,250.52 198.10,255.40 C201.52,260.28 206.68,265.18 211.30,269.80 C215.92,274.42 220.58,280.37 225.80,283.10 C231.02,285.83 236.18,284.80 242.60,286.20 C249.02,287.60 257.07,290.03 264.30,291.50 C271.53,292.97 278.38,294.33 286.00,295.00 C293.62,295.67 301.58,295.42 310.00,295.50 C318.42,295.58 332.08,295.50 336.50,295.50 L336.50,295.6 L96.00,295.6 Z" fill="#64a0e6" fill-opacity="0.075"/>
<path d="M96.00,295.60 C97.43,295.60 102.87,295.73 104.60,295.60 C106.33,295.47 105.45,295.52 106.40,294.80 C107.35,294.08 109.20,293.33 110.30,291.30 C111.40,289.27 112.27,286.57 113.00,282.60 C113.73,278.63 114.32,268.97 114.70,267.50 C115.08,266.03 115.08,272.17 115.30,273.80 C115.52,275.43 115.55,275.62 116.00,277.30 C116.45,278.98 117.27,283.62 118.00,283.90 C118.73,284.18 119.57,281.85 120.40,279.00 C121.23,276.15 122.12,271.17 123.00,266.80 C123.88,262.43 124.82,256.88 125.70,252.80 C126.58,248.72 127.58,246.10 128.30,242.30 C129.02,238.50 129.50,235.38 130.00,230.00 C130.50,224.62 130.73,216.38 131.30,210.00 C131.87,203.62 132.75,193.37 133.40,191.70 C134.05,190.03 134.70,197.67 135.20,200.00 C135.70,202.33 135.48,201.33 136.40,205.70 C137.32,210.07 139.45,223.25 140.70,226.20 C141.95,229.15 142.63,222.87 143.90,223.40 C145.17,223.93 146.85,228.22 148.30,229.40 C149.75,230.58 150.98,230.20 152.60,230.50 C154.22,230.80 156.70,230.93 158.00,231.20 C159.30,231.47 159.78,231.10 160.40,232.10 C161.02,233.10 161.12,234.18 161.70,237.20 C162.28,240.22 163.03,246.88 163.90,250.20 C164.77,253.52 165.83,255.67 166.90,257.10 C167.97,258.53 169.00,258.23 170.30,258.80 C171.60,259.37 173.25,259.63 174.70,260.50 C176.15,261.37 177.72,262.42 179.00,264.00 C180.28,265.58 181.25,267.57 182.40,270.00 C183.55,272.43 184.60,275.87 185.90,278.60 C187.20,281.33 188.77,284.53 190.20,286.40 C191.63,288.27 192.87,288.93 194.50,289.80 C196.13,290.67 197.20,290.87 200.00,291.60 C202.80,292.33 204.63,293.58 211.30,294.20 C217.97,294.82 219.13,295.07 240.00,295.30 C260.87,295.53 320.42,295.55 336.50,295.60 L336.50,295.6 L96.00,295.6 Z" fill="#64a0e6" fill-opacity="0.13"/>
<path d="M105.50,96.80 C105.83,94.00 106.83,85.80 107.50,80.00 C108.17,74.20 108.97,65.57 109.50,62.00 C110.03,58.43 110.32,58.60 110.70,58.60 C111.08,58.60 111.37,59.85 111.80,62.00 C112.23,64.15 112.77,68.50 113.30,71.50 C113.83,74.50 114.42,77.52 115.00,80.00 C115.58,82.48 116.13,84.73 116.80,86.40 C117.47,88.07 118.13,88.97 119.00,90.00 C119.87,91.03 120.83,91.77 122.00,92.60 C123.17,93.43 124.83,94.30 126.00,95.00 C127.17,95.70 128.50,96.50 129.00,96.80 L129,96.8 L105.5,96.8 Z" fill="#64a0e6" fill-opacity="0.075"/>
<path d="M96.00,295.60 C97.08,295.57 101.07,297.57 102.50,295.40 C103.93,293.23 104.10,289.12 104.60,282.60 C105.10,276.08 105.30,270.07 105.50,256.30 C105.70,242.53 105.73,224.05 105.80,200.00 C105.87,175.95 105.88,126.67 105.90,112.00" fill="none" stroke="#c3daf7" stroke-width="2"/>
<path d="M128.80,112.00 C128.87,116.67 129.03,131.37 129.20,140.00 C129.37,148.63 129.18,159.42 129.80,163.80 C130.42,168.18 131.95,164.43 132.90,166.30 C133.85,168.17 134.63,172.08 135.50,175.00 C136.37,177.92 137.37,180.28 138.10,183.80 C138.83,187.32 139.35,188.40 139.90,196.10 C140.45,203.80 140.93,219.97 141.40,230.00 C141.87,240.03 142.18,249.43 142.70,256.30 C143.22,263.17 143.83,268.22 144.50,271.20 C145.17,274.18 145.90,274.20 146.70,274.20 C147.50,274.20 148.50,270.98 149.30,271.20 C150.10,271.42 150.55,273.60 151.50,275.50 C152.45,277.40 153.58,280.93 155.00,282.60 C156.42,284.27 158.60,284.30 160.00,285.50 C161.40,286.70 161.97,288.78 163.40,289.80 C164.83,290.82 166.30,291.02 168.60,291.60 C170.90,292.18 174.32,292.88 177.20,293.30 C180.08,293.72 182.10,293.78 185.90,294.10 C189.70,294.42 174.90,294.95 200.00,295.20 C225.10,295.45 313.75,295.53 336.50,295.60" fill="none" stroke="#c3daf7" stroke-width="2"/>
<path d="M105.50,96.80 C105.83,94.00 106.83,85.80 107.50,80.00 C108.17,74.20 108.97,65.57 109.50,62.00 C110.03,58.43 110.32,58.60 110.70,58.60 C111.08,58.60 111.37,59.85 111.80,62.00 C112.23,64.15 112.77,68.50 113.30,71.50 C113.83,74.50 114.42,77.52 115.00,80.00 C115.58,82.48 116.13,84.73 116.80,86.40 C117.47,88.07 118.13,88.97 119.00,90.00 C119.87,91.03 120.83,91.77 122.00,92.60 C123.17,93.43 124.83,94.30 126.00,95.00 C127.17,95.70 128.50,96.50 129.00,96.80" fill="none" stroke="#c3daf7" stroke-width="2"/>
<path d="M96.00,295.60 C97.43,295.60 102.87,295.73 104.60,295.60 C106.33,295.47 105.45,295.52 106.40,294.80 C107.35,294.08 109.20,293.33 110.30,291.30 C111.40,289.27 112.27,286.57 113.00,282.60 C113.73,278.63 114.32,268.97 114.70,267.50 C115.08,266.03 115.08,272.17 115.30,273.80 C115.52,275.43 115.55,275.62 116.00,277.30 C116.45,278.98 117.27,283.62 118.00,283.90 C118.73,284.18 119.57,281.85 120.40,279.00 C121.23,276.15 122.12,271.17 123.00,266.80 C123.88,262.43 124.82,256.88 125.70,252.80 C126.58,248.72 127.58,246.10 128.30,242.30 C129.02,238.50 129.50,235.38 130.00,230.00 C130.50,224.62 130.73,216.38 131.30,210.00 C131.87,203.62 132.75,193.37 133.40,191.70 C134.05,190.03 134.70,197.67 135.20,200.00 C135.70,202.33 135.48,201.33 136.40,205.70 C137.32,210.07 139.45,223.25 140.70,226.20 C141.95,229.15 142.63,222.87 143.90,223.40 C145.17,223.93 146.85,228.22 148.30,229.40 C149.75,230.58 150.98,230.20 152.60,230.50 C154.22,230.80 156.70,230.93 158.00,231.20 C159.30,231.47 159.78,231.10 160.40,232.10 C161.02,233.10 161.12,234.18 161.70,237.20 C162.28,240.22 163.03,246.88 163.90,250.20 C164.77,253.52 165.83,255.67 166.90,257.10 C167.97,258.53 169.00,258.23 170.30,258.80 C171.60,259.37 173.25,259.63 174.70,260.50 C176.15,261.37 177.72,262.42 179.00,264.00 C180.28,265.58 181.25,267.57 182.40,270.00 C183.55,272.43 184.60,275.87 185.90,278.60 C187.20,281.33 188.77,284.53 190.20,286.40 C191.63,288.27 192.87,288.93 194.50,289.80 C196.13,290.67 197.20,290.87 200.00,291.60 C202.80,292.33 204.63,293.58 211.30,294.20 C217.97,294.82 219.13,295.07 240.00,295.30 C260.87,295.53 320.42,295.55 336.50,295.60" fill="none" stroke="#4f9cf2" stroke-width="2.2"/>
<path d="M96.00,295.60 C98.90,295.60 110.13,296.32 113.40,295.60 C116.67,294.88 114.95,293.62 115.60,291.30 C116.25,288.98 116.72,285.35 117.30,281.70 C117.88,278.05 118.52,275.10 119.10,269.40 C119.68,263.70 120.22,254.07 120.80,247.50 C121.38,240.93 121.90,244.12 122.60,230.00 C123.30,215.88 124.17,178.38 125.00,162.80 C125.83,147.22 126.77,143.87 127.60,136.50 C128.43,129.13 129.20,122.37 130.00,118.60 C130.80,114.83 131.70,113.90 132.40,113.90 C133.10,113.90 133.68,116.58 134.20,118.60 C134.72,120.62 134.98,122.72 135.50,126.00 C136.02,129.28 136.57,134.80 137.30,138.30 C138.03,141.80 138.73,144.38 139.90,147.00 C141.07,149.62 142.83,152.38 144.30,154.00 C145.77,155.62 147.53,155.67 148.70,156.70 C149.87,157.73 150.28,158.60 151.30,160.20 C152.32,161.80 153.48,165.13 154.80,166.30 C156.12,167.47 157.88,166.62 159.20,167.20 C160.52,167.78 161.53,168.48 162.70,169.80 C163.87,171.12 165.03,172.47 166.20,175.10 C167.37,177.73 168.53,181.80 169.70,185.60 C170.87,189.40 172.03,193.97 173.20,197.90 C174.37,201.83 175.38,206.73 176.70,209.20 C178.02,211.67 179.78,211.23 181.10,212.70 C182.42,214.17 183.58,215.95 184.60,218.00 C185.62,220.05 186.17,221.25 187.20,225.00 C188.23,228.75 188.98,235.43 190.80,240.50 C192.62,245.57 194.68,250.52 198.10,255.40 C201.52,260.28 206.68,265.18 211.30,269.80 C215.92,274.42 220.58,280.37 225.80,283.10 C231.02,285.83 236.18,284.80 242.60,286.20 C249.02,287.60 257.07,290.03 264.30,291.50 C271.53,292.97 278.38,294.33 286.00,295.00 C293.62,295.67 301.58,295.42 310.00,295.50 C318.42,295.58 332.08,295.50 336.50,295.50" fill="none" stroke="#1a97ab" stroke-width="2.2"/>
<text x="77.90" y="60.30" font-size="15.5" text-anchor="end">4×10</text><text x="80.20" y="55.80" font-size="10">7</text>
<text x="78.50" y="117.30" font-size="15.5" text-anchor="end">2×10</text><text x="79.30" y="112.80" font-size="10">6</text>
<text x="78.50" y="209.20" font-size="15.5" text-anchor="end">1×10</text><text x="79.30" y="204.70" font-size="10">6</text>
<text x="84.50" y="301.20" font-size="15.5" text-anchor="end" >0</text>
<text x="96.00" y="321.10" font-size="15.5" text-anchor="middle" >0</text>
<text x="216.30" y="321.10" font-size="15.5" text-anchor="middle" >500</text>
<text x="336.50" y="321.10" font-size="15.5" text-anchor="middle" >1000</text>
<text x="216.30" y="344.30" font-size="15.4" text-anchor="middle" >Size (nm)</text>
<text transform="translate(31.6,175.2) rotate(-90)" font-size="14.9" text-anchor="middle">Particles/mL/µg of proteins</text>
<line x1="227.30" y1="59.50" x2="249.20" y2="59.50" stroke="#1a97ab" stroke-width="2.2"/>
<text x="261.40" y="65.20" font-size="14.7" text-anchor="start" >EV UC</text>
<line x1="227.30" y1="102.20" x2="249.20" y2="102.20" stroke="#4f9cf2" stroke-width="2.2"/>
<text x="261.40" y="107.90" font-size="14.7" text-anchor="start" >EV Q</text>
<line x1="227.30" y1="145.00" x2="249.20" y2="145.00" stroke="#c7dcf7" stroke-width="2.2"/>
<text x="261.40" y="150.70" font-size="14.7" text-anchor="start" >EV M</text>
<g clip-path="url(#c1)">
<rect x="384.3" y="25.3" width="144.4" height="144.3" fill="#afafaf"/>
<path d="M410.50,24.00 C409.48,27.57 406.40,38.42 404.40,45.40 C402.40,52.38 400.15,59.08 398.50,65.90 C396.85,72.72 395.70,79.78 394.50,86.30 C393.30,92.82 392.17,98.55 391.30,105.00 C390.43,111.45 389.82,118.33 389.30,125.00 C388.78,131.67 388.50,137.33 388.20,145.00 C387.90,152.67 387.62,166.67 387.50,171.00 L383,171 L383,25 Z" fill="#979797"/>
<path d="M410.50,24.00 C409.48,27.57 406.40,38.42 404.40,45.40 C402.40,52.38 400.15,59.08 398.50,65.90 C396.85,72.72 395.70,79.78 394.50,86.30 C393.30,92.82 392.17,98.55 391.30,105.00 C390.43,111.45 389.82,118.33 389.30,125.00 C388.78,131.67 388.50,137.33 388.20,145.00 C387.90,152.67 387.62,166.67 387.50,171.00" fill="none" stroke="#7c7c7c" stroke-width="1.6" transform="translate(-1.3,0)" filter="url(#bl05)"/>
<path d="M410.50,24.00 C409.48,27.57 406.40,38.42 404.40,45.40 C402.40,52.38 400.15,59.08 398.50,65.90 C396.85,72.72 395.70,79.78 394.50,86.30 C393.30,92.82 392.17,98.55 391.30,105.00 C390.43,111.45 389.82,118.33 389.30,125.00 C388.78,131.67 388.50,137.33 388.20,145.00 C387.90,152.67 387.62,166.67 387.50,171.00" fill="none" stroke="#cdcdcd" stroke-width="1.3" transform="translate(0.9,0)" filter="url(#bl05)"/>
<ellipse cx="422.9" cy="109.6" rx="27.4" ry="31.5" fill="#aaaaaa" stroke="#9e9e9e" stroke-width="2.6" filter="url(#blur1)"/>
<rect x="384.3" y="25.3" width="144.4" height="144.3" filter="url(#gUC)"/>
</g>
<rect x="454" y="160.3" width="70.5" height="4.9" fill="#fff"/>
<rect x="385.1" y="26.1" width="142.8" height="142.7" fill="none" stroke="#000" stroke-width="1.8"/>
<g clip-path="url(#c2)">
<rect x="539" y="25.9" width="143.7" height="144.1" fill="#bdbdbd"/>
<ellipse cx="548" cy="165" rx="32" ry="28" fill="#aaaaaa" filter="url(#blur4)"/>
<ellipse cx="655" cy="95" rx="30" ry="22" fill="#bdbdbd" filter="url(#blur4)"/>
<ellipse cx="596" cy="101" rx="31" ry="36" fill="#9c9c9c" filter="url(#blur2)"/>
<ellipse cx="596" cy="101" rx="29.5" ry="34.5" fill="none" stroke="#838383" stroke-width="4.5" filter="url(#blur2)"/>
<rect x="539" y="25.9" width="143.7" height="144.1" filter="url(#gQ)"/>
<path d="M572.2,33 C568,35.5 568.5,41.5 576,43 L576.3,41.6 C572.5,40.5 571.5,37 574,34.2 Z" fill="#f8f8f8"/>
</g>
<rect x="608" y="161.6" width="70.9" height="4.5" fill="#fff"/>
<rect x="539.8" y="26.7" width="142.1" height="142.5" fill="none" stroke="#000" stroke-width="1.8"/>
<g clip-path="url(#c3)">
<rect x="384.3" y="206.5" width="144.2" height="143.7" fill="#d9d9d9"/>
<ellipse cx="453.3" cy="273" rx="30.4" ry="36.8" fill="#d5d5d5" stroke="#c6c6c6" stroke-width="1.8" filter="url(#blur1)"/>
<g filter="url(#bl05)">
<circle cx="441.4" cy="219.2" r="2.3" fill="#707070" opacity="0.36"/>
<circle cx="445.1" cy="219.0" r="2.1" fill="#707070" opacity="0.36"/>
<circle cx="445.2" cy="218.7" r="1.9" fill="#707070" opacity="0.36"/>
<circle cx="441.1" cy="218.1" r="1.9" fill="#707070" opacity="0.36"/>
<circle cx="438.6" cy="219.5" r="2.0" fill="#707070" opacity="0.36"/>
<circle cx="442.8" cy="221.1" r="2.6" fill="#707070" opacity="0.36"/>
<circle cx="439.7" cy="216.3" r="2.6" fill="#707070" opacity="0.36"/>
<circle cx="446.2" cy="218.8" r="2.1" fill="#707070" opacity="0.36"/>
<circle cx="443.1" cy="218.8" r="2.1" fill="#707070" opacity="0.36"/>
<circle cx="443.0" cy="215.9" r="2.3" fill="#707070" opacity="0.36"/>
<circle cx="440.4" cy="215.5" r="2.3" fill="#707070" opacity="0.36"/>
<circle cx="443.2" cy="218.0" r="2.0" fill="#707070" opacity="0.36"/>
<circle cx="441.0" cy="215.0" r="2.1" fill="#707070" opacity="0.36"/>
<circle cx="440.4" cy="216.5" r="0.8" fill="#e8e8e8" opacity="0.5"/>
<circle cx="441.4" cy="220.2" r="0.8" fill="#e8e8e8" opacity="0.5"/>
<circle cx="441.7" cy="216.1" r="0.8" fill="#e8e8e8" opacity="0.5"/>
<circle cx="388.1" cy="225.5" r="1.1" fill="#707070" opacity="0.36"/>
<circle cx="389.2" cy="225.1" r="1.1" fill="#707070" opacity="0.36"/>
<circle cx="390.2" cy="226.9" r="1.0" fill="#707070" opacity="0.36"/>
<circle cx="390.1" cy="227.2" r="0.8" fill="#707070" opacity="0.36"/>
<circle cx="388.5" cy="224.7" r="1.0" fill="#707070" opacity="0.36"/>
<circle cx="390.0" cy="225.4" r="1.0" fill="#707070" opacity="0.36"/>
<circle cx="388.5" cy="225.5" r="0.8" fill="#e8e8e8" opacity="0.5"/>
<circle cx="400.1" cy="235.8" r="1.9" fill="#707070" opacity="0.36"/>
<circle cx="400.3" cy="235.4" r="1.4" fill="#707070" opacity="0.36"/>
<circle cx="402.2" cy="232.5" r="1.9" fill="#707070" opacity="0.36"/>
<circle cx="403.8" cy="233.4" r="1.6" fill="#707070" opacity="0.36"/>
<circle cx="402.8" cy="234.6" r="1.6" fill="#707070" opacity="0.36"/>
<circle cx="403.6" cy="236.0" r="1.4" fill="#707070" opacity="0.36"/>
<circle cx="403.1" cy="233.8" r="1.5" fill="#707070" opacity="0.36"/>
<circle cx="400.6" cy="237.0" r="1.4" fill="#707070" opacity="0.36"/>
<circle cx="400.7" cy="235.8" r="1.9" fill="#707070" opacity="0.36"/>
<circle cx="404.3" cy="232.2" r="1.5" fill="#707070" opacity="0.36"/>
<circle cx="401.8" cy="235.7" r="0.8" fill="#e8e8e8" opacity="0.5"/>
<circle cx="404.7" cy="233.5" r="0.8" fill="#e8e8e8" opacity="0.5"/>
<circle cx="413.9" cy="240.7" r="1.6" fill="#707070" opacity="0.36"/>
<circle cx="413.3" cy="242.0" r="1.9" fill="#707070" opacity="0.36"/>
<circle cx="413.0" cy="239.7" r="1.8" fill="#707070" opacity="0.36"/>
<circle cx="411.2" cy="241.5" r="2.1" fill="#707070" opacity="0.36"/>
<circle cx="412.1" cy="237.1" r="1.9" fill="#707070" opacity="0.36"/>
<circle cx="412.6" cy="238.8" r="2.0" fill="#707070" opacity="0.36"/>
<circle cx="413.6" cy="236.2" r="2.0" fill="#707070" opacity="0.36"/>
<circle cx="411.2" cy="240.9" r="1.6" fill="#707070" opacity="0.36"/>
<circle cx="412.4" cy="238.8" r="1.5" fill="#707070" opacity="0.36"/>
<circle cx="413.4" cy="240.9" r="1.7" fill="#707070" opacity="0.36"/>
<circle cx="413.1" cy="239.5" r="1.6" fill="#707070" opacity="0.36"/>
<circle cx="414.2" cy="240.4" r="0.8" fill="#e8e8e8" opacity="0.5"/>
<circle cx="415.3" cy="239.9" r="0.8" fill="#e8e8e8" opacity="0.5"/>
<circle cx="467.4" cy="229.2" r="2.0" fill="#707070" opacity="0.36"/>
<circle cx="467.2" cy="232.4" r="1.9" fill="#707070" opacity="0.36"/>
<circle cx="471.2" cy="226.8" r="2.1" fill="#707070" opacity="0.36"/>
<circle cx="467.4" cy="230.4" r="1.9" fill="#707070" opacity="0.36"/>
<circle cx="467.5" cy="232.2" r="2.4" fill="#707070" opacity="0.36"/>
<circle cx="469.0" cy="230.9" r="2.5" fill="#707070" opacity="0.36"/>
<circle cx="467.1" cy="230.0" r="2.2" fill="#707070" opacity="0.36"/>
<circle cx="471.8" cy="230.8" r="2.5" fill="#707070" opacity="0.36"/>
<circle cx="471.1" cy="227.6" r="2.0" fill="#707070" opacity="0.36"/>
<circle cx="467.5" cy="231.6" r="2.4" fill="#707070" opacity="0.36"/>
<circle cx="465.0" cy="229.5" r="2.0" fill="#707070" opacity="0.36"/>
<circle cx="469.4" cy="234.1" r="2.5" fill="#707070" opacity="0.36"/>
<circle cx="470.3" cy="228.1" r="0.8" fill="#e8e8e8" opacity="0.5"/>
<circle cx="469.8" cy="228.0" r="0.8" fill="#e8e8e8" opacity="0.5"/>
<circle cx="469.0" cy="232.4" r="0.8" fill="#e8e8e8" opacity="0.5"/>
<circle cx="494.6" cy="226.7" r="2.0" fill="#707070" opacity="0.36"/>
<circle cx="494.7" cy="228.4" r="2.5" fill="#707070" opacity="0.36"/>
<circle cx="498.1" cy="225.3" r="2.7" fill="#707070" opacity="0.36"/>
<circle cx="499.7" cy="225.8" r="2.2" fill="#707070" opacity="0.36"/>
<circle cx="495.5" cy="228.3" r="2.1" fill="#707070" opacity="0.36"/>
<circle cx="496.1" cy="229.6" r="2.7" fill="#707070" opacity="0.36"/>
<circle cx="496.8" cy="223.4" r="2.5" fill="#707070" opacity="0.36"/>
<circle cx="495.5" cy="224.8" r="2.5" fill="#707070" opacity="0.36"/>
<circle cx="498.6" cy="223.9" r="2.5" fill="#707070" opacity="0.36"/>
<circle cx="493.1" cy="226.4" r="2.6" fill="#707070" opacity="0.36"/>
<circle cx="493.0" cy="229.7" r="2.7" fill="#707070" opacity="0.36"/>
<circle cx="492.7" cy="227.9" r="2.7" fill="#707070" opacity="0.36"/>
<circle cx="494.8" cy="224.2" r="2.0" fill="#707070" opacity="0.36"/>
<circle cx="496.9" cy="228.6" r="0.8" fill="#e8e8e8" opacity="0.5"/>
<circle cx="495.5" cy="224.9" r="0.8" fill="#e8e8e8" opacity="0.5"/>
<circle cx="496.6" cy="223.2" r="0.8" fill="#e8e8e8" opacity="0.5"/>
<circle cx="504.7" cy="221.5" r="1.5" fill="#707070" opacity="0.36"/>
<circle cx="505.9" cy="223.3" r="1.7" fill="#707070" opacity="0.36"/>
<circle cx="504.4" cy="221.2" r="1.7" fill="#707070" opacity="0.36"/>
<circle cx="503.1" cy="224.1" r="1.7" fill="#707070" opacity="0.36"/>
<circle cx="506.1" cy="224.5" r="1.4" fill="#707070" opacity="0.36"/>
<circle cx="505.8" cy="225.3" r="1.4" fill="#707070" opacity="0.36"/>
<circle cx="504.7" cy="223.5" r="1.7" fill="#707070" opacity="0.36"/>
<circle cx="504.5" cy="224.6" r="1.6" fill="#707070" opacity="0.36"/>
<circle cx="507.3" cy="221.9" r="1.7" fill="#707070" opacity="0.36"/>
<circle cx="504.2" cy="223.0" r="0.8" fill="#e8e8e8" opacity="0.5"/>
<circle cx="505.4" cy="223.0" r="0.8" fill="#e8e8e8" opacity="0.5"/>
<circle cx="510.6" cy="227.3" r="0.9" fill="#707070" opacity="0.36"/>
<circle cx="511.8" cy="226.1" r="1.1" fill="#707070" opacity="0.36"/>
<circle cx="511.2" cy="225.4" r="1.0" fill="#707070" opacity="0.36"/>
<circle cx="509.9" cy="226.8" r="1.2" fill="#707070" opacity="0.36"/>
<circle cx="512.8" cy="228.0" r="1.0" fill="#707070" opacity="0.36"/>
<circle cx="511.2" cy="228.9" r="1.1" fill="#707070" opacity="0.36"/>
<circle cx="509.8" cy="226.3" r="1.2" fill="#707070" opacity="0.36"/>
<circle cx="510.4" cy="227.4" r="0.8" fill="#e8e8e8" opacity="0.5"/>
<circle cx="511.6" cy="273.6" r="2.7" fill="#707070" opacity="0.36"/>
<circle cx="511.7" cy="274.8" r="2.5" fill="#707070" opacity="0.36"/>
<circle cx="519.1" cy="272.2" r="2.8" fill="#707070" opacity="0.36"/>
<circle cx="517.6" cy="272.8" r="2.6" fill="#707070" opacity="0.36"/>
<circle cx="519.5" cy="272.1" r="2.2" fill="#707070" opacity="0.36"/>
<circle cx="517.6" cy="276.0" r="2.2" fill="#707070" opacity="0.36"/>
<circle cx="515.3" cy="275.1" r="2.7" fill="#707070" opacity="0.36"/>
<circle cx="516.2" cy="269.0" r="2.2" fill="#707070" opacity="0.36"/>
<circle cx="514.3" cy="269.7" r="2.2" fill="#707070" opacity="0.36"/>
<circle cx="518.9" cy="270.4" r="2.3" fill="#707070" opacity="0.36"/>
<circle cx="518.2" cy="272.8" r="2.5" fill="#707070" opacity="0.36"/>
<circle cx="519.8" cy="273.4" r="2.2" fill="#707070" opacity="0.36"/>
<circle cx="511.9" cy="275.2" r="2.4" fill="#707070" opacity="0.36"/>
<circle cx="516.2" cy="276.4" r="2.7" fill="#707070" opacity="0.36"/>
<circle cx="517.8" cy="274.0" r="0.8" fill="#e8e8e8" opacity="0.5"/>
<circle cx="514.8" cy="273.9" r="0.8" fill="#e8e8e8" opacity="0.5"/>
<circle cx="513.8" cy="276.1" r="0.8" fill="#e8e8e8" opacity="0.5"/>
<circle cx="490.7" cy="287.4" r="2.9" fill="#707070" opacity="0.36"/>
<circle cx="493.2" cy="282.7" r="2.2" fill="#707070" opacity="0.36"/>
<circle cx="491.9" cy="288.5" r="2.8" fill="#707070" opacity="0.36"/>
<circle cx="491.8" cy="289.3" r="2.5" fill="#707070" opacity="0.36"/>
<circle cx="495.9" cy="285.1" r="2.3" fill="#707070" opacity="0.36"/>
<circle cx="494.9" cy="291.4" r="2.6" fill="#707070" opacity="0.36"/>
<circle cx="491.5" cy="286.1" r="2.1" fill="#707070" opacity="0.36"/>
<circle cx="490.8" cy="284.5" r="2.2" fill="#707070" opacity="0.36"/>
<circle cx="495.7" cy="286.0" r="2.8" fill="#707070" opacity="0.36"/>
<circle cx="496.0" cy="289.8" r="2.2" fill="#707070" opacity="0.36"/>
<circle cx="494.2" cy="284.9" r="2.4" fill="#707070" opacity="0.36"/>
<circle cx="487.4" cy="285.9" r="2.3" fill="#707070" opacity="0.36"/>
<circle cx="494.5" cy="290.2" r="2.3" fill="#707070" opacity="0.36"/>
<circle cx="493.6" cy="288.8" r="2.1" fill="#707070" opacity="0.36"/>
<circle cx="492.6" cy="289.4" r="0.8" fill="#e8e8e8" opacity="0.5"/>
<circle cx="491.0" cy="290.4" r="0.8" fill="#e8e8e8" opacity="0.5"/>
<circle cx="491.4" cy="289.9" r="0.8" fill="#e8e8e8" opacity="0.5"/>
<circle cx="391.1" cy="271.0" r="1.2" fill="#707070" opacity="0.36"/>
<circle cx="390.4" cy="269.9" r="1.6" fill="#707070" opacity="0.36"/>
<circle cx="389.2" cy="269.1" r="1.4" fill="#707070" opacity="0.36"/>
<circle cx="391.3" cy="269.1" r="1.6" fill="#707070" opacity="0.36"/>
<circle cx="388.6" cy="270.3" r="1.6" fill="#707070" opacity="0.36"/>
<circle cx="388.8" cy="270.8" r="1.5" fill="#707070" opacity="0.36"/>
<circle cx="392.1" cy="269.3" r="1.6" fill="#707070" opacity="0.36"/>
<circle cx="389.8" cy="267.3" r="1.4" fill="#707070" opacity="0.36"/>
<circle cx="390.0" cy="270.0" r="1.3" fill="#707070" opacity="0.36"/>
<circle cx="392.0" cy="270.2" r="0.8" fill="#e8e8e8" opacity="0.5"/>
<circle cx="390.4" cy="270.3" r="0.8" fill="#e8e8e8" opacity="0.5"/>
<circle cx="392.1" cy="281.7" r="2.0" fill="#707070" opacity="0.36"/>
<circle cx="388.4" cy="278.3" r="1.6" fill="#707070" opacity="0.36"/>
<circle cx="388.6" cy="282.4" r="1.6" fill="#707070" opacity="0.36"/>
<circle cx="387.6" cy="280.6" r="2.1" fill="#707070" opacity="0.36"/>
<circle cx="391.9" cy="279.5" r="1.6" fill="#707070" opacity="0.36"/>
<circle cx="391.3" cy="279.6" r="1.7" fill="#707070" opacity="0.36"/>
<circle cx="391.5" cy="280.0" r="1.8" fill="#707070" opacity="0.36"/>
<circle cx="387.7" cy="280.0" r="1.8" fill="#707070" opacity="0.36"/>
<circle cx="391.1" cy="280.1" r="1.6" fill="#707070" opacity="0.36"/>
<circle cx="388.7" cy="280.4" r="1.5" fill="#707070" opacity="0.36"/>
<circle cx="388.7" cy="281.6" r="1.9" fill="#707070" opacity="0.36"/>
<circle cx="387.2" cy="279.6" r="0.8" fill="#e8e8e8" opacity="0.5"/>
<circle cx="388.1" cy="278.2" r="0.8" fill="#e8e8e8" opacity="0.5"/>
<circle cx="408.0" cy="282.3" r="0.7" fill="#707070" opacity="0.36"/>
<circle cx="407.9" cy="282.9" r="0.9" fill="#707070" opacity="0.36"/>
<circle cx="407.1" cy="282.7" r="0.9" fill="#707070" opacity="0.36"/>
<circle cx="408.3" cy="282.2" r="0.9" fill="#707070" opacity="0.36"/>
<circle cx="407.5" cy="282.5" r="0.8" fill="#707070" opacity="0.36"/>
<circle cx="406.3" cy="283.0" r="0.8" fill="#e8e8e8" opacity="0.5"/>
<circle cx="408.3" cy="286.6" r="0.8" fill="#707070" opacity="0.36"/>
<circle cx="408.8" cy="287.2" r="0.8" fill="#707070" opacity="0.36"/>
<circle cx="407.8" cy="288.3" r="0.7" fill="#707070" opacity="0.36"/>
<circle cx="407.5" cy="288.4" r="0.9" fill="#707070" opacity="0.36"/>
<circle cx="406.6" cy="287.5" r="0.8" fill="#707070" opacity="0.36"/>
<circle cx="407.5" cy="287.3" r="0.8" fill="#e8e8e8" opacity="0.5"/>
<circle cx="403.3" cy="314.1" r="2.7" fill="#707070" opacity="0.36"/>
<circle cx="395.1" cy="313.9" r="2.7" fill="#707070" opacity="0.36"/>
<circle cx="402.8" cy="315.7" r="2.3" fill="#707070" opacity="0.36"/>
<circle cx="401.1" cy="315.2" r="2.7" fill="#707070" opacity="0.36"/>
<circle cx="400.0" cy="318.2" r="2.9" fill="#707070" opacity="0.36"/>
<circle cx="395.7" cy="314.1" r="2.5" fill="#707070" opacity="0.36"/>
<circle cx="397.0" cy="310.0" r="2.6" fill="#707070" opacity="0.36"/>
<circle cx="397.9" cy="312.9" r="2.2" fill="#707070" opacity="0.36"/>
<circle cx="398.7" cy="318.3" r="2.4" fill="#707070" opacity="0.36"/>
<circle cx="398.3" cy="313.8" r="2.2" fill="#707070" opacity="0.36"/>
<circle cx="398.3" cy="318.1" r="2.7" fill="#707070" opacity="0.36"/>
<circle cx="397.6" cy="311.6" r="2.5" fill="#707070" opacity="0.36"/>
<circle cx="395.4" cy="314.8" r="2.2" fill="#707070" opacity="0.36"/>
<circle cx="400.6" cy="312.6" r="2.9" fill="#707070" opacity="0.36"/>
<circle cx="399.2" cy="313.8" r="0.8" fill="#e8e8e8" opacity="0.5"/>
<circle cx="395.7" cy="314.8" r="0.8" fill="#e8e8e8" opacity="0.5"/>
<circle cx="401.1" cy="313.5" r="0.8" fill="#e8e8e8" opacity="0.5"/>
<circle cx="399.8" cy="326.6" r="1.2" fill="#707070" opacity="0.36"/>
<circle cx="400.3" cy="327.2" r="1.0" fill="#707070" opacity="0.36"/>
<circle cx="397.8" cy="325.3" r="0.9" fill="#707070" opacity="0.36"/>
<circle cx="400.6" cy="324.2" r="1.2" fill="#707070" opacity="0.36"/>
<circle cx="399.6" cy="324.6" r="1.2" fill="#707070" opacity="0.36"/>
<circle cx="399.6" cy="325.6" r="0.9" fill="#707070" opacity="0.36"/>
<circle cx="398.5" cy="325.7" r="1.0" fill="#707070" opacity="0.36"/>
<circle cx="400.5" cy="326.3" r="0.8" fill="#e8e8e8" opacity="0.5"/>
<circle cx="404.3" cy="336.2" r="2.1" fill="#707070" opacity="0.36"/>
<circle cx="406.2" cy="327.4" r="2.2" fill="#707070" opacity="0.36"/>
<circle cx="410.0" cy="330.1" r="2.9" fill="#707070" opacity="0.36"/>
<circle cx="405.4" cy="335.0" r="2.4" fill="#707070" opacity="0.36"/>
<circle cx="410.1" cy="332.0" r="2.4" fill="#707070" opacity="0.36"/>
<circle cx="403.8" cy="333.2" r="2.1" fill="#707070" opacity="0.36"/>
<circle cx="409.9" cy="334.7" r="2.3" fill="#707070" opacity="0.36"/>
<circle cx="408.5" cy="331.0" r="2.3" fill="#707070" opacity="0.36"/>
<circle cx="404.0" cy="331.8" r="2.4" fill="#707070" opacity="0.36"/>
<circle cx="410.8" cy="330.7" r="2.8" fill="#707070" opacity="0.36"/>
<circle cx="402.9" cy="328.5" r="2.9" fill="#707070" opacity="0.36"/>
<circle cx="402.1" cy="330.7" r="2.1" fill="#707070" opacity="0.36"/>
<circle cx="405.8" cy="328.6" r="2.7" fill="#707070" opacity="0.36"/>
<circle cx="404.5" cy="329.9" r="2.1" fill="#707070" opacity="0.36"/>
<circle cx="407.3" cy="331.4" r="0.8" fill="#e8e8e8" opacity="0.5"/>
<circle cx="404.2" cy="332.4" r="0.8" fill="#e8e8e8" opacity="0.5"/>
<circle cx="405.3" cy="334.9" r="0.8" fill="#e8e8e8" opacity="0.5"/>
<circle cx="473.0" cy="317.9" r="2.3" fill="#707070" opacity="0.36"/>
<circle cx="469.8" cy="321.3" r="2.1" fill="#707070" opacity="0.36"/>
<circle cx="471.7" cy="319.7" r="1.9" fill="#707070" opacity="0.36"/>
<circle cx="473.3" cy="316.5" r="2.0" fill="#707070" opacity="0.36"/>
<circle cx="474.4" cy="315.8" r="2.1" fill="#707070" opacity="0.36"/>
<circle cx="472.0" cy="319.7" r="1.9" fill="#707070" opacity="0.36"/>
<circle cx="470.1" cy="319.3" r="2.0" fill="#707070" opacity="0.36"/>
<circle cx="470.6" cy="321.5" r="2.4" fill="#707070" opacity="0.36"/>
<circle cx="470.8" cy="315.4" r="2.1" fill="#707070" opacity="0.36"/>
<circle cx="468.2" cy="317.8" r="2.0" fill="#707070" opacity="0.36"/>
<circle cx="472.9" cy="319.1" r="2.5" fill="#707070" opacity="0.36"/>
<circle cx="473.0" cy="320.4" r="2.3" fill="#707070" opacity="0.36"/>
<circle cx="471.7" cy="317.1" r="0.8" fill="#e8e8e8" opacity="0.5"/>
<circle cx="470.6" cy="319.7" r="0.8" fill="#e8e8e8" opacity="0.5"/>
<circle cx="469.2" cy="319.4" r="0.8" fill="#e8e8e8" opacity="0.5"/>
<circle cx="448.4" cy="322.1" r="1.8" fill="#707070" opacity="0.36"/>
<circle cx="446.1" cy="323.1" r="1.7" fill="#707070" opacity="0.36"/>
<circle cx="447.3" cy="321.6" r="1.7" fill="#707070" opacity="0.36"/>
<circle cx="447.5" cy="323.0" r="1.9" fill="#707070" opacity="0.36"/>
<circle cx="446.9" cy="320.3" r="1.9" fill="#707070" opacity="0.36"/>
<circle cx="445.5" cy="324.1" r="1.4" fill="#707070" opacity="0.36"/>
<circle cx="442.9" cy="322.6" r="1.9" fill="#707070" opacity="0.36"/>
<circle cx="445.0" cy="320.4" r="1.8" fill="#707070" opacity="0.36"/>
<circle cx="443.2" cy="323.6" r="1.4" fill="#707070" opacity="0.36"/>
<circle cx="445.8" cy="321.5" r="1.8" fill="#707070" opacity="0.36"/>
<circle cx="444.7" cy="322.0" r="0.8" fill="#e8e8e8" opacity="0.5"/>
<circle cx="446.3" cy="323.8" r="0.8" fill="#e8e8e8" opacity="0.5"/>
<circle cx="445.2" cy="334.0" r="1.4" fill="#707070" opacity="0.36"/>
<circle cx="449.1" cy="337.0" r="1.7" fill="#707070" opacity="0.36"/>
<circle cx="445.8" cy="337.0" r="1.7" fill="#707070" opacity="0.36"/>
<circle cx="448.8" cy="336.1" r="1.6" fill="#707070" opacity="0.36"/>
<circle cx="449.5" cy="335.3" r="1.8" fill="#707070" opacity="0.36"/>
<circle cx="445.4" cy="336.2" r="1.5" fill="#707070" opacity="0.36"/>
<circle cx="449.6" cy="335.3" r="1.5" fill="#707070" opacity="0.36"/>
<circle cx="449.3" cy="336.3" r="1.7" fill="#707070" opacity="0.36"/>
<circle cx="445.6" cy="336.8" r="1.7" fill="#707070" opacity="0.36"/>
<circle cx="448.4" cy="335.3" r="1.4" fill="#707070" opacity="0.36"/>
<circle cx="446.2" cy="337.2" r="0.8" fill="#e8e8e8" opacity="0.5"/>
<circle cx="446.6" cy="335.1" r="0.8" fill="#e8e8e8" opacity="0.5"/>
<circle cx="512.0" cy="331.8" r="2.0" fill="#707070" opacity="0.36"/>
<circle cx="512.1" cy="338.8" r="1.9" fill="#707070" opacity="0.36"/>
<circle cx="511.8" cy="333.4" r="1.8" fill="#707070" opacity="0.36"/>
<circle cx="511.1" cy="333.0" r="2.3" fill="#707070" opacity="0.36"/>
<circle cx="509.3" cy="335.1" r="1.8" fill="#707070" opacity="0.36"/>
<circle cx="508.2" cy="336.7" r="2.3" fill="#707070" opacity="0.36"/>
<circle cx="512.5" cy="337.1" r="1.8" fill="#707070" opacity="0.36"/>
<circle cx="512.5" cy="334.9" r="1.7" fill="#707070" opacity="0.36"/>
<circle cx="513.3" cy="336.0" r="2.2" fill="#707070" opacity="0.36"/>
<circle cx="513.5" cy="332.8" r="2.3" fill="#707070" opacity="0.36"/>
<circle cx="513.1" cy="334.2" r="1.8" fill="#707070" opacity="0.36"/>
<circle cx="513.2" cy="334.2" r="0.8" fill="#e8e8e8" opacity="0.5"/>
<circle cx="513.2" cy="335.5" r="0.8" fill="#e8e8e8" opacity="0.5"/>
<circle cx="520.3" cy="340.6" r="1.4" fill="#707070" opacity="0.36"/>
<circle cx="521.7" cy="339.5" r="1.3" fill="#707070" opacity="0.36"/>
<circle cx="519.9" cy="341.7" r="1.3" fill="#707070" opacity="0.36"/>
<circle cx="522.9" cy="339.1" r="1.4" fill="#707070" opacity="0.36"/>
<circle cx="522.7" cy="337.0" r="1.4" fill="#707070" opacity="0.36"/>
<circle cx="523.5" cy="340.0" r="1.4" fill="#707070" opacity="0.36"/>
<circle cx="522.7" cy="338.8" r="1.4" fill="#707070" opacity="0.36"/>
<circle cx="522.0" cy="339.1" r="1.4" fill="#707070" opacity="0.36"/>
<circle cx="522.6" cy="337.1" r="1.2" fill="#707070" opacity="0.36"/>
<circle cx="522.1" cy="339.5" r="0.8" fill="#e8e8e8" opacity="0.5"/>
<circle cx="522.5" cy="338.9" r="0.8" fill="#e8e8e8" opacity="0.5"/>
<circle cx="515.2" cy="244.4" r="0.4" fill="#707070" opacity="0.36"/>
<circle cx="515.1" cy="246.0" r="0.4" fill="#707070" opacity="0.36"/>
<circle cx="515.1" cy="245.9" r="0.4" fill="#707070" opacity="0.36"/>
<circle cx="515.2" cy="245.3" r="0.5" fill="#707070" opacity="0.36"/>
<circle cx="519.0" cy="340.1" r="1.2" fill="#707070" opacity="0.36"/>
<circle cx="518.5" cy="341.2" r="1.1" fill="#707070" opacity="0.36"/>
<circle cx="519.5" cy="340.4" r="1.0" fill="#707070" opacity="0.36"/>
<circle cx="517.5" cy="342.4" r="1.1" fill="#707070" opacity="0.36"/>
<circle cx="518.3" cy="340.6" r="1.2" fill="#707070" opacity="0.36"/>
<circle cx="517.4" cy="339.0" r="1.2" fill="#707070" opacity="0.36"/>
<circle cx="516.5" cy="340.2" r="1.0" fill="#707070" opacity="0.36"/>
<circle cx="516.6" cy="342.0" r="0.8" fill="#e8e8e8" opacity="0.5"/>
</g>
<rect x="384.3" y="206.5" width="144.2" height="143.7" filter="url(#gM)"/>
</g>
<rect x="454.4" y="341.3" width="70.1" height="5.4" fill="#fff"/>
<rect x="385.1" y="207.3" width="142.6" height="142.1" fill="none" stroke="#000" stroke-width="1.8"/>
<text x="455.20" y="21.30" font-size="26.2" text-anchor="middle" >EV UC</text>
<text x="610.90" y="21.30" font-size="26.2" text-anchor="middle" >EV Q</text>
<text x="458.60" y="203.90" font-size="26.2" text-anchor="middle" >EV M</text>
</svg></body></html>
